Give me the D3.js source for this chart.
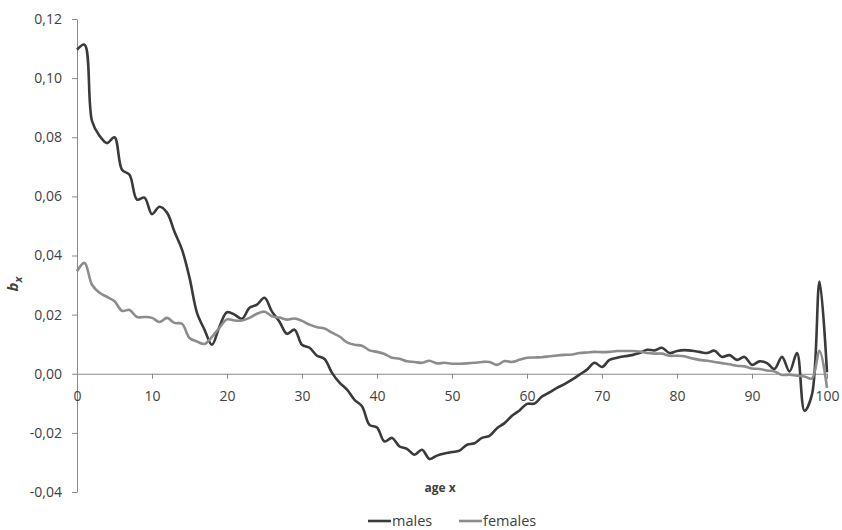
<!DOCTYPE html>
<html>
<head>
<meta charset="utf-8">
<script src="https://cdn.jsdelivr.net/npm/d3@7"></script>
<style>
  body { margin: 0; background: #fff; }
  svg text { font-family: "Open Sans", "Liberation Sans", sans-serif; fill: #404040; }
</style>
</head>
<body>
<div id="chart"></div>
<script>
const ages = d3.range(0, 101);

const males = [
    0.1096, 0.1113, 0.0855, 0.0805, 0.0780, 0.0800, 0.0690, 0.0673, 0.0589, 0.0596,
    0.0540, 0.0565, 0.0545, 0.0480, 0.0420, 0.0325, 0.0206, 0.0149, 0.0098, 0.0160,
    0.0208, 0.0200, 0.0186, 0.0223, 0.0234, 0.0257, 0.0210, 0.0176, 0.0135, 0.0149,
    0.0098, 0.0088, 0.0061, 0.0050, 0.0003, -0.0030, -0.0054, -0.0088, -0.0110, -0.0173,
    -0.0182, -0.0229, -0.0217, -0.0246, -0.0254, -0.0274, -0.0257, -0.0288, -0.0277, -0.0270,
    -0.0265, -0.0260, -0.0240, -0.0235, -0.0217, -0.0210, -0.0184, -0.0167, -0.0142, -0.0124,
    -0.0102, -0.0101, -0.0077, -0.0063, -0.0048, -0.0035, -0.0020, -0.0003, 0.0014, 0.0037,
    0.0023, 0.0047, 0.0054, 0.0059, 0.0063, 0.0070, 0.0081, 0.0079, 0.0088, 0.0070,
    0.0077, 0.0080, 0.0078, 0.0074, 0.0070, 0.0078, 0.0057, 0.0063, 0.0047, 0.0057,
    0.0030, 0.0042, 0.0036, 0.0016, 0.0057, 0.0008, 0.0070, -0.0125, -0.0070, 0.0312,
    0.0005
];

const females = [
    0.0346, 0.0375, 0.0301, 0.0274, 0.0260, 0.0245, 0.0213, 0.0216, 0.0192, 0.0192,
    0.0189, 0.0175, 0.0189, 0.0172, 0.0169, 0.0121, 0.0109, 0.0101, 0.0125, 0.0156,
    0.0184, 0.0180, 0.0180, 0.0189, 0.0203, 0.0210, 0.0194, 0.0190, 0.0183, 0.0187,
    0.0179, 0.0166, 0.0157, 0.0153, 0.0139, 0.0126, 0.0106, 0.0098, 0.0095, 0.0079,
    0.0074, 0.0067, 0.0054, 0.0051, 0.0042, 0.0040, 0.0037, 0.0044, 0.0035, 0.0037,
    0.0034, 0.0034, 0.0035, 0.0037, 0.0040, 0.0040, 0.0030, 0.0043, 0.0040, 0.0047,
    0.0054, 0.0055, 0.0056, 0.0059, 0.0062, 0.0064, 0.0065, 0.0070, 0.0072, 0.0074,
    0.0073, 0.0074, 0.0077, 0.0077, 0.0077, 0.0075, 0.0070, 0.0068, 0.0068, 0.0061,
    0.0061, 0.0059, 0.0052, 0.0047, 0.0044, 0.0040, 0.0036, 0.0032, 0.0027, 0.0025,
    0.0018, 0.0016, 0.0011, 0.0008, -0.0004, -0.0003, -0.0007, -0.0009, -0.0016, 0.0078,
    -0.0048
];

const xTicks = [0, 10, 20, 30, 40, 50, 60, 70, 80, 90, 100];
const yTicks = [-0.04, -0.02, 0, 0.02, 0.04, 0.06, 0.08, 0.10, 0.12];

const seriesNames = ["males", "females"];
const seriesColors = ["#3a3a3a", "#8c8c8c"];

const width = 842, height = 530;
const svg = d3.select("#chart").append("svg")
    .attr("width", width)
    .attr("height", height);

const x = d3.scaleLinear().domain([0, 100]).range([77, 827]);
const y = d3.scaleLinear().domain([-0.04, 0.12]).range([492, 19]);

// comma decimal, plain hyphen for minus
const locale = d3.formatLocale({ decimal: ",", thousands: ".", grouping: [3], currency: ["", ""], minus: "-" });
const fmt = locale.format(".2f");

// y axis
const yAxis = svg.append("g")
    .attr("transform", `translate(${x(0)},0)`)
    .call(d3.axisLeft(y).tickValues(yTicks).tickFormat(fmt).tickSize(5).tickSizeOuter(0).tickPadding(10));

// x axis sitting on zero line
const xAxis = svg.append("g")
    .attr("transform", `translate(0,${y(0)})`)
    .call(d3.axisBottom(x).tickValues(xTicks).tickFormat(d3.format("d")).tickSize(5).tickSizeOuter(0).tickPadding(12));

[yAxis, xAxis].forEach(a => {
    a.select(".domain").attr("stroke", "#8a8a8a").attr("stroke-width", 1);
    a.selectAll(".tick line").attr("stroke", "#8a8a8a");
    a.selectAll(".tick text")
        .style("font-size", "14px")
        .style("fill", "#404040");
});

// lines
const line = d3.line()
    .x((d, i) => x(ages[i]))
    .y(d => y(d))
    .curve(d3.curveCatmullRom.alpha(0.5));

[males, females].forEach((vals, k) => {
    svg.append("path")
        .datum(vals)
        .attr("fill", "none")
        .attr("stroke", seriesColors[k])
        .attr("stroke-width", 2.6)
        .attr("stroke-linejoin", "round")
        .attr("d", line);
});

// axis titles
const yTitle = svg.append("text")
    .attr("transform", "translate(18,284) rotate(-90)")
    .attr("text-anchor", "middle")
    .style("font-size", "15px")
    .style("font-weight", "bold")
    .style("font-style", "italic");
yTitle.append("tspan").text("b");
yTitle.append("tspan")
    .attr("dy", 4)
    .style("font-size", "11px")
    .text("x");

svg.append("text")
    .attr("x", 440)
    .attr("y", 492)
    .attr("text-anchor", "middle")
    .style("font-size", "12px")
    .style("font-weight", "bold")
    .text("age x");

// legend
const legendX = [368, 459];
const legend = svg.selectAll(".legend")
    .data(seriesNames)
    .enter()
    .append("g")
    .attr("transform", (d, i) => `translate(${legendX[i]},521)`);

legend.append("line")
    .attr("x1", 0).attr("x2", 23)
    .attr("stroke", (d, i) => seriesColors[i])
    .attr("stroke-width", 2.6);

legend.append("text")
    .attr("x", 24)
    .attr("y", 5)
    .style("font-size", "14.5px")
    .text(d => d);
</script>
</body>
</html>
